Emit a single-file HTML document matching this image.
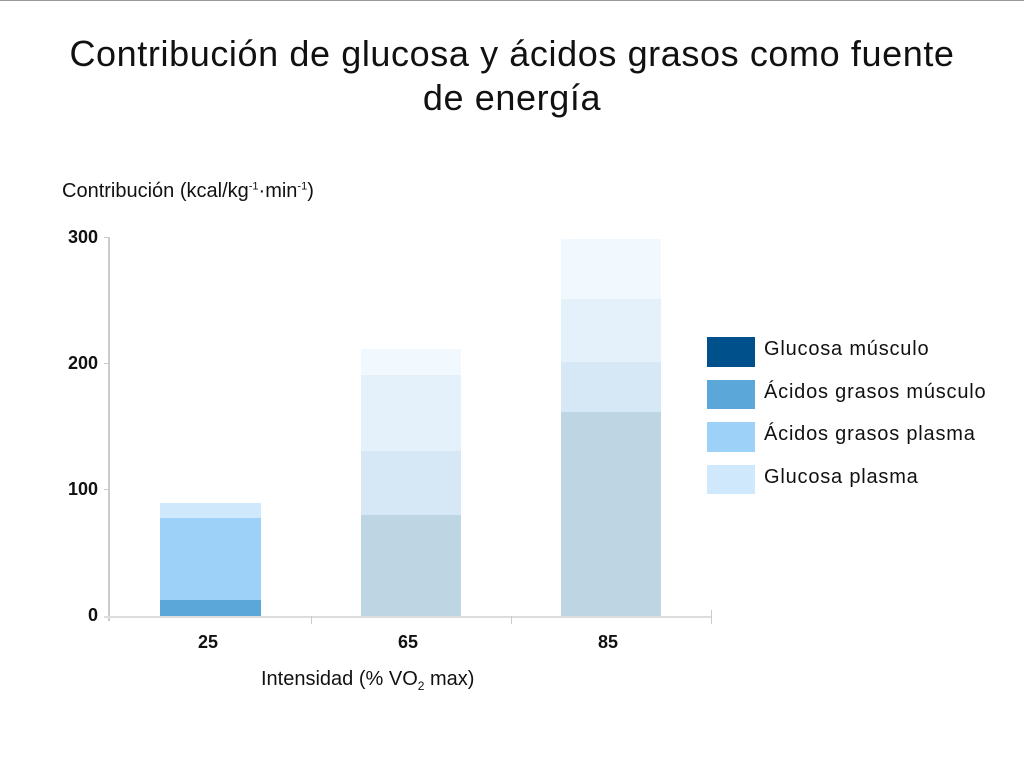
<!DOCTYPE html>
<html><head><meta charset="utf-8"><style>
body{margin:0;width:1024px;height:764px;background:#fff;font-family:"Liberation Sans",sans-serif;position:relative;overflow:hidden}
.t{position:absolute;left:0;width:1024px;text-align:center;font-size:36px;letter-spacing:0.6px;color:#111;line-height:44px}
.a{position:absolute;font-size:20px;color:#111}
.b{position:absolute;font-size:18px;font-weight:bold;color:#111}
.y{position:absolute;left:40px;width:58px;text-align:right;font-size:18px;font-weight:bold;color:#111}
.r{position:absolute}
.l{letter-spacing:0.8px}
</style></head><body>
<div style="position:absolute;left:0;top:0;width:1024px;height:1px;background:#999"></div>
<div class="t" style="top:32px">Contribución de glucosa y ácidos grasos como fuente<br>de energía</div>
<div class="a" style="left:62px;top:180px">Contribución (kcal/kg<sup style="font-size:11px">-1</sup>·min<sup style="font-size:11px">-1</sup>)</div>
<div class="y" style="top:227px">300</div>
<div class="y" style="top:353px">200</div>
<div class="y" style="top:479px">100</div>
<div class="y" style="top:605px">0</div>
<div class="r" style="left:108px;top:237px;width:2px;height:384px;background:#ccc"></div>
<div class="r" style="left:104px;top:237px;width:5px;height:1px;background:#ccc"></div>
<div class="r" style="left:104px;top:363px;width:5px;height:1px;background:#ccc"></div>
<div class="r" style="left:104px;top:489px;width:5px;height:1px;background:#ccc"></div>
<div class="r" style="left:104px;top:616px;width:608px;height:2px;background:#ddd"></div>
<div class="r" style="left:311px;top:616px;width:1px;height:8px;background:#ccc"></div>
<div class="r" style="left:511px;top:616px;width:1px;height:8px;background:#ccc"></div>
<div class="r" style="left:711px;top:610px;width:1px;height:14px;background:#ccc"></div>
<div class="r" style="left:160px;top:503px;width:101px;height:15px;background:#cfe8fc"></div>
<div class="r" style="left:160px;top:518px;width:101px;height:82px;background:#9dd1f7"></div>
<div class="r" style="left:160px;top:600px;width:101px;height:16px;background:#5ba7da"></div>
<div class="r" style="left:361px;top:349px;width:100px;height:26px;background:#f1f8fe"></div>
<div class="r" style="left:361px;top:375px;width:100px;height:76px;background:#e4f1fb"></div>
<div class="r" style="left:361px;top:451px;width:100px;height:64px;background:#d6e8f6"></div>
<div class="r" style="left:361px;top:515px;width:100px;height:101px;background:#bed5e3"></div>
<div class="r" style="left:561px;top:239px;width:100px;height:60px;background:#f1f8fe"></div>
<div class="r" style="left:561px;top:299px;width:100px;height:63px;background:#e4f1fb"></div>
<div class="r" style="left:561px;top:362px;width:100px;height:50px;background:#d6e8f6"></div>
<div class="r" style="left:561px;top:412px;width:100px;height:204px;background:#bed5e3"></div>
<div class="b" style="left:198px;top:632px">25</div>
<div class="b" style="left:398px;top:632px">65</div>
<div class="b" style="left:598px;top:632px">85</div>
<div class="a" style="left:261px;top:668px">Intensidad (% VO<sub style="font-size:12px">2</sub> max)</div>
<div class="r" style="left:707px;top:337px;width:48px;height:30px;background:#00508c"></div>
<div class="r" style="left:707px;top:380px;width:48px;height:29px;background:#5ba7da"></div>
<div class="r" style="left:707px;top:422px;width:48px;height:30px;background:#9dd1f7"></div>
<div class="r" style="left:707px;top:465px;width:48px;height:29px;background:#cfe8fc"></div>
<div class="a l" style="left:764px;top:338px">Glucosa músculo</div>
<div class="a l" style="left:764px;top:381px">Ácidos grasos músculo</div>
<div class="a l" style="left:764px;top:423px">Ácidos grasos plasma</div>
<div class="a l" style="left:764px;top:466px">Glucosa plasma</div>
</body></html>
